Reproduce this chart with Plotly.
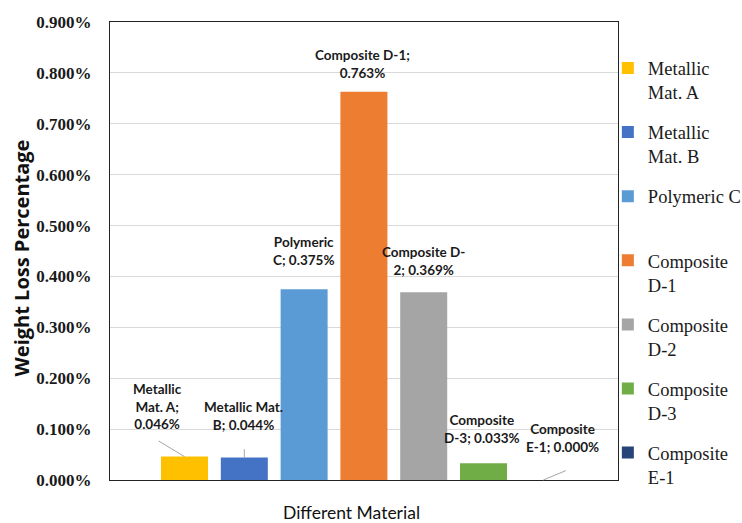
import plotly.graph_objects as go

# Materials tested and their measured weight loss (percent)
materials = ["Metallic Mat. A", "Metallic Mat. B", "Polymeric C", "Composite D-1",
             "Composite D-2", "Composite D-3", "Composite E-1"]
weight_loss_pct = [0.046, 0.044, 0.375, 0.763, 0.369, 0.033, 0.000]

# Legend names (wrapped) and data-label templates (wrapped)
legend_names = ["Metallic<br>Mat. A", "Metallic<br>Mat. B", "Polymeric C<br> ",
                "Composite<br>D-1", "Composite<br>D-2", "Composite<br>D-3", "Composite<br>E-1"]
label_templates = ["Metallic<br>Mat. A;<br>{v}", "Metallic Mat.<br>B; {v}", "Polymeric<br>C; {v}",
                   "Composite D-1;<br>{v}", "Composite D-<br>2; {v}", "Composite<br>D-3; {v}",
                   "Composite<br>E-1; {v}"]

colors = ["#FFC000", "#4472C4", "#5B9BD5", "#ED7D31", "#A5A5A5", "#70AD47", "#264478"]

# Label placement offsets (px) from each bar top, and leader lines (tail offset px)
label_shift = [(-27.5, 50), (-1, 41.6), (-1, 38), (-1, 28), (-0.5, 31), (-1.5, 34), (19.5, 42.5)]
leaders = {0: (-27.5, -16.6), 1: (0, -10), 6: (24, -10)}

values = [v / 100.0 for v in weight_loss_pct]

fig = go.Figure()
for i, (name, v, c) in enumerate(zip(legend_names, values, colors)):
    fig.add_trace(go.Bar(
        x=[i], y=[v], name=name, marker=dict(color=c, line=dict(width=0)),
        width=0.786, legendgroup=f"g{i}", showlegend=True,
        hovertext=materials[i],
    ))

label_font = dict(family="Lato, Liberation Sans, sans-serif", size=13.5, color="#1a1a1a")
annotations = []
for i, (tpl, v, pct) in enumerate(zip(label_templates, values, weight_loss_pct)):
    txt = "<b>" + tpl.format(v=f"{pct:.3f}%") + "</b>"
    dx, dy = label_shift[i]
    annotations.append(dict(x=i, y=v, xref="x", yref="y", text=txt, showarrow=False,
                            xshift=dx, yshift=dy, xanchor="center", yanchor="middle",
                            align="center", font=label_font))
    if i in leaders:
        ax, ay = leaders[i]
        annotations.append(dict(x=i, y=v, xref="x", yref="y", text="", showarrow=True,
                                arrowhead=0, arrowwidth=1, arrowcolor="#a6a6a6",
                                ax=ax, ay=ay, axref="pixel", ayref="pixel", standoff=0,
                                startstandoff=0))

# Axis titles
annotations.append(dict(x=-0.174, y=0.485, xref="paper", yref="paper", text="<b>Weight Loss Percentage</b>",
                        textangle=-90, showarrow=False, xanchor="center", yanchor="middle",
                        font=dict(family="Open Sans", size=20, color="#111111")))
annotations.append(dict(x=0.476, y=-0.07, xref="paper", yref="paper", text="Different Material",
                        showarrow=False, xanchor="center", yanchor="middle",
                        font=dict(family="Lato", size=17.5, color="#111111")))

fig.update_layout(
    width=742, height=523,
    margin=dict(l=110, r=124, t=22, b=43, autoexpand=False),
    paper_bgcolor="white", plot_bgcolor="white",
    barmode="overlay",
    annotations=annotations,
    legend=dict(x=0.980, y=0.94, xanchor="left", yanchor="top", valign="top",
                font=dict(family="Liberation Serif", size=18.5, color="#1a1a1a"),
                tracegroupgap=13, itemwidth=30, bgcolor="rgba(0,0,0,0)"),
    showlegend=True,
)
fig.update_xaxes(range=[-1.246, 7.249], showticklabels=False, showgrid=False, zeroline=False,
                 showline=True, linecolor="#222222", linewidth=1, mirror=True, ticks="")
fig.update_yaxes(range=[0, 0.009], tickvals=[k / 1000 for k in range(10)], tickformat=".3%",
                 showgrid=True, gridcolor="#d9d9d9", gridwidth=1, zeroline=False,
                 showline=True, linecolor="#222222", linewidth=1, mirror=True, ticks="",
                 ticklabelstandoff=14,
                 tickfont=dict(family="Liberation Serif", size=17, color="#1a1a1a",
                               weight="bold"))

fig.write_html("out.html")
